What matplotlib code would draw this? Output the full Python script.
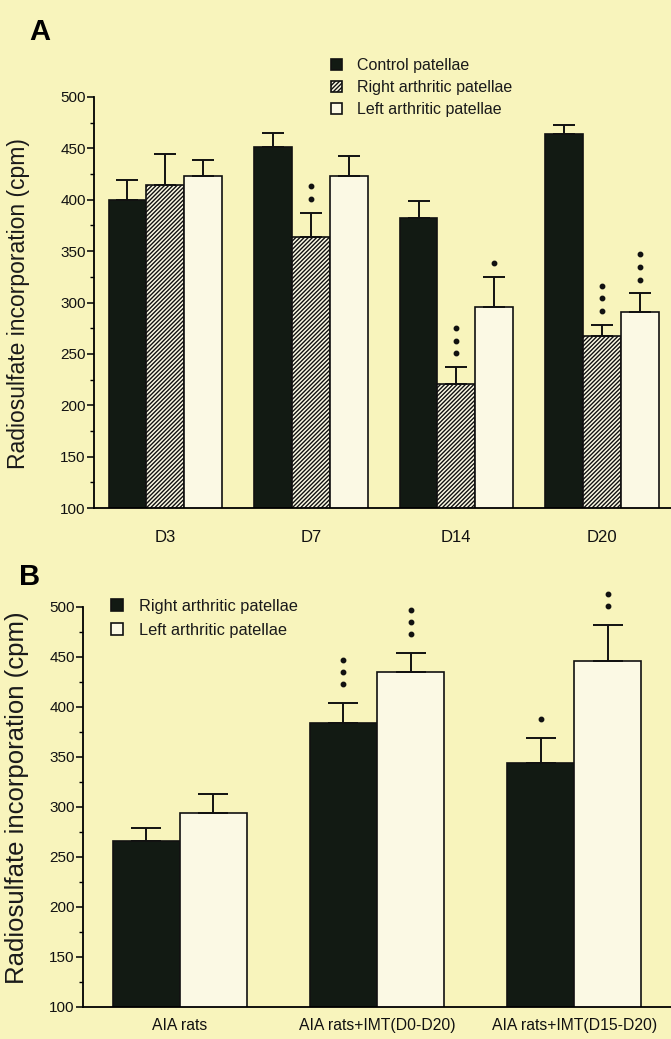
import matplotlib.pyplot as plt
import numpy as np

# --- panel A data ---
days = ["D3", "D7", "D14", "D20"]
control_a = [400, 451, 382, 464]
control_a_err = [19, 14, 17, 9]
right_a = [414, 364, 221, 267]
right_a_err = [31, 23, 16, 11]
left_a = [423, 423, 296, 291]
left_a_err = [16, 20, 29, 18]
stars_right_a = [0, 2, 3, 3]
stars_left_a = [0, 0, 1, 3]

# --- panel B data ---
groups = ["AIA rats", "AIA rats+IMT(D0-D20)", "AIA rats+IMT(D15-D20)"]
right_b = [266, 384, 344]
right_b_err = [13, 20, 25]
left_b = [294, 435, 446]
left_b_err = [19, 19, 36]
stars_right_b = [0, 3, 1]
stars_left_b = [0, 3, 2]

BG = "#f8f4bc"
DARK = "#121a13"
PALE = "#fbf9e4"

plt.rcParams['font.family'] = ['Liberation Sans', 'DejaVu Sans']
plt.rcParams['hatch.linewidth'] = 1.0
plt.rcParams['hatch.color'] = '#262626'

fig = plt.figure(figsize=(6.71, 10.39), dpi=100, facecolor=BG)


def style_axis(ax):
    ax.set_facecolor(BG)
    ax.spines['top'].set_visible(False)
    ax.spines['right'].set_visible(False)
    ax.spines['left'].set_linewidth(1.3)
    ax.spines['bottom'].set_linewidth(1.3)
    ax.set_ylim(100, 500)
    ax.set_yticks(np.arange(100, 501, 50))
    ax.set_yticks(np.arange(100, 501, 25), minor=True)
    ax.tick_params(axis='y', which='major', length=5, width=1.2, labelsize=11, colors='#111', pad=1)
    ax.tick_params(axis='y', which='minor', length=3, width=1.0)
    ax.tick_params(axis='x', length=0, colors='#111')


def stars(ax, xs, tops, counts, gap, step):
    for x, t, n in zip(xs, tops, counts):
        for k in range(n):
            ax.plot(x, t + gap + k * step, 'o', color='#111', markersize=3.2, clip_on=False)


# ---------- panel A ----------
axA = fig.add_axes((94 / 671, 1 - 508 / 1039, 1 - 94 / 671, (508 - 97) / 1039))
style_axis(axA)
x = np.arange(len(days))
w = 0.26
ekw = dict(elinewidth=1.4, capthick=1.4, ecolor='#111')
axA.bar(x - w, control_a, w, color=DARK, edgecolor='#111', linewidth=1.2,
        yerr=[np.zeros(4), control_a_err], capsize=8, error_kw=ekw, label="Control patellae")
axA.bar(x, right_a, w, color=PALE, edgecolor='#111', linewidth=1.2, hatch='////////',
        yerr=[np.zeros(4), right_a_err], capsize=8, error_kw=ekw, label="Right arthritic patellae")
axA.bar(x + w, left_a, w, color=PALE, edgecolor='#111', linewidth=1.2,
        yerr=[np.zeros(4), left_a_err], capsize=8, error_kw=ekw, label="Left arthritic patellae")
axA.set_xlim(-0.49, 3.475)
axA.set_xticks(x)
axA.set_xticklabels(days, fontsize=12)
axA.tick_params(axis='x', pad=16)
stars(axA, x, np.array(right_a) + right_a_err, stars_right_a, 14, 12)
stars(axA, x + w, np.array(left_a) + left_a_err, stars_left_a, 13, 12.5)
axA.legend(loc='upper left', bbox_to_anchor=(0.386, 1.13), frameon=False,
           prop=dict(size=11.5),
           handlelength=0.7, handleheight=0.7, handletextpad=0.9, labelspacing=0.45,
           labelcolor='#1a1a1a')

# ---------- panel B ----------
axB = fig.add_axes((83 / 671, 1 - 1007 / 1039, 1 - 83 / 671, 400 / 1039))
style_axis(axB)
xb = np.arange(len(groups))
wb = 0.34
axB.bar(xb - wb / 2, right_b, wb, color=DARK, edgecolor='#111', linewidth=1.2,
        yerr=[np.zeros(3), right_b_err], capsize=11, error_kw=ekw, label="Right arthritic patellae")
axB.bar(xb + wb / 2, left_b, wb, color=PALE, edgecolor='#111', linewidth=1.2,
        yerr=[np.zeros(3), left_b_err], capsize=11, error_kw=ekw, label="Left arthritic patellae")
axB.set_xlim(-0.49, 2.49)
axB.set_xticks(xb)
axB.set_xticklabels(groups, fontsize=11.3)
axB.tick_params(axis='x', pad=8)
stars(axB, xb - wb / 2, np.array(right_b) + right_b_err, stars_right_b, 19, 12)
stars(axB, xb + wb / 2, np.array(left_b) + left_b_err, stars_left_b, 19, 12)
axB.legend(loc='upper left', bbox_to_anchor=(0.023, 1.058), frameon=False,
           prop=dict(size=11.8),
           handlelength=0.7, handleheight=0.7, handletextpad=1.0, labelspacing=0.55,
           labelcolor='#1a1a1a')

# panel letters and axis titles
fig.text(40 / 671, 1 - 32 / 1039, "A", fontsize=21, fontweight='bold', ha='center', va='center')
fig.text(30 / 671, 1 - 577 / 1039, "B", fontsize=21, fontweight='bold', ha='center', va='center')
ylab = "Radiosulfate incorporation (cpm)"
fig.text(19 / 671, 1 - 304 / 1039, ylab, rotation=90, fontsize=16.5, ha='center', va='center',
         color='#1a1a1a')
fig.text(17 / 671, 1 - 798 / 1039, ylab, rotation=90, fontsize=18.5, ha='center', va='center',
         color='#1a1a1a')

fig.savefig("out.png", dpi=100, facecolor=BG)
